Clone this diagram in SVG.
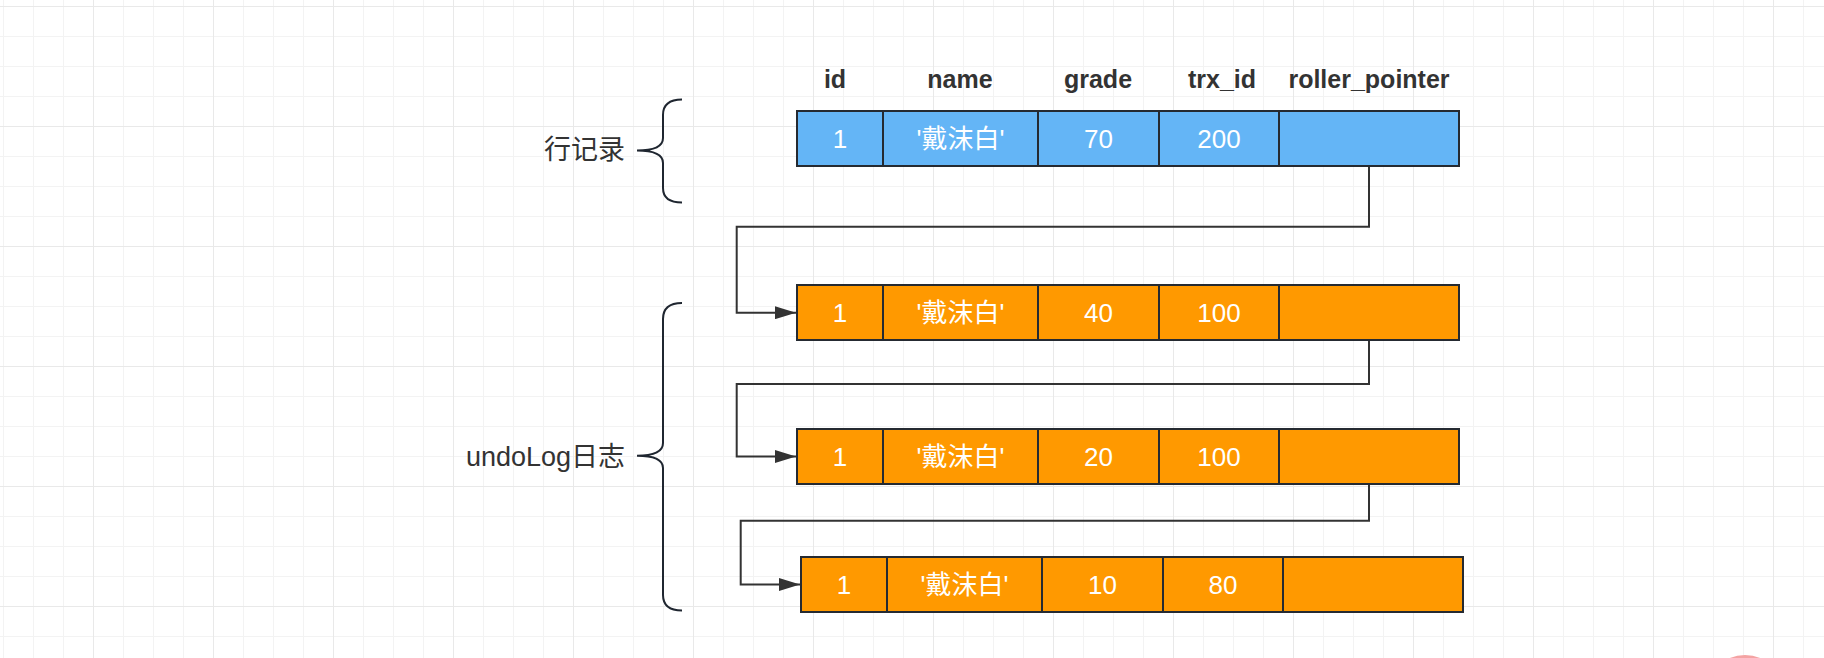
<svg xmlns="http://www.w3.org/2000/svg" width="1824" height="658" viewBox="0 0 1824 658">
<style>
.hdr{font-family:"Liberation Sans","Noto Sans CJK SC",sans-serif;font-size:25px;font-weight:bold;fill:#333333;text-anchor:middle;dominant-baseline:central}
.cell{font-family:"Liberation Sans","Noto Sans CJK SC",sans-serif;font-size:26px;fill:#ffffff;text-anchor:middle;dominant-baseline:central}
.lbl{font-family:"Liberation Sans","Noto Sans CJK SC",sans-serif;font-size:27px;fill:#333333;text-anchor:end;dominant-baseline:central}
.box{stroke:#252a31;stroke-width:2}
.blue{fill:#64b5f6}
.orange{fill:#ff9900}
.div{stroke:#252a31;stroke-width:2}
.conn{fill:none;stroke:#333333;stroke-width:2}
.brace{fill:none;stroke:#1f2630;stroke-width:2}
</style>
<defs>
<pattern id="grid" x="-27" y="6" width="120" height="120" patternUnits="userSpaceOnUse">
<rect x="0" y="0" width="120" height="120" fill="#ffffff"/>
<rect x="30" y="0" width="1" height="120" fill="#f3f3f3"/>
<rect x="60" y="0" width="1" height="120" fill="#f3f3f3"/>
<rect x="90" y="0" width="1" height="120" fill="#f3f3f3"/>
<rect x="0" y="30" width="120" height="1" fill="#f3f3f3"/>
<rect x="0" y="60" width="120" height="1" fill="#f3f3f3"/>
<rect x="0" y="90" width="120" height="1" fill="#f3f3f3"/>
<rect x="0" y="0" width="1" height="120" fill="#e9e9e9"/>
<rect x="0" y="0" width="120" height="1" fill="#e9e9e9"/>
</pattern>
<marker id="arr" viewBox="0 0 21 13" refX="21" refY="6.5" markerWidth="21" markerHeight="13" markerUnits="userSpaceOnUse" orient="auto">
<path d="M0,0 L21,6.5 L0,13 Z" fill="#333333"/>
</marker>
</defs>
<rect x="0" y="0" width="1824" height="658" fill="url(#grid)"/>

<g id="headers">
<text class="hdr" x="835" y="79">id</text>
<text class="hdr" x="960" y="79">name</text>
<text class="hdr" x="1098" y="79">grade</text>
<text class="hdr" x="1222" y="79">trx_id</text>
<text class="hdr" x="1369" y="79">roller_pointer</text>
</g>

<g id="row-record">
<rect class="box blue" x="797" y="111" width="662" height="55"/>
<line class="div" x1="883" y1="111" x2="883" y2="166"/>
<line class="div" x1="1038" y1="111" x2="1038" y2="166"/>
<line class="div" x1="1159" y1="111" x2="1159" y2="166"/>
<line class="div" x1="1279" y1="111" x2="1279" y2="166"/>
<text class="cell" x="840" y="138.5">1</text>
<text class="cell" x="960.5" y="138.5">'戴沫白'</text>
<text class="cell" x="1098.5" y="138.5">70</text>
<text class="cell" x="1219" y="138.5">200</text>
</g>

<g id="row-undo1">
<rect class="box orange" x="797" y="285" width="662" height="55"/>
<line class="div" x1="883" y1="285" x2="883" y2="340"/>
<line class="div" x1="1038" y1="285" x2="1038" y2="340"/>
<line class="div" x1="1159" y1="285" x2="1159" y2="340"/>
<line class="div" x1="1279" y1="285" x2="1279" y2="340"/>
<text class="cell" x="840" y="312.5">1</text>
<text class="cell" x="960.5" y="312.5">'戴沫白'</text>
<text class="cell" x="1098.5" y="312.5">40</text>
<text class="cell" x="1219" y="312.5">100</text>
</g>

<g id="row-undo2">
<rect class="box orange" x="797" y="429" width="662" height="55"/>
<line class="div" x1="883" y1="429" x2="883" y2="484"/>
<line class="div" x1="1038" y1="429" x2="1038" y2="484"/>
<line class="div" x1="1159" y1="429" x2="1159" y2="484"/>
<line class="div" x1="1279" y1="429" x2="1279" y2="484"/>
<text class="cell" x="840" y="456.5">1</text>
<text class="cell" x="960.5" y="456.5">'戴沫白'</text>
<text class="cell" x="1098.5" y="456.5">20</text>
<text class="cell" x="1219" y="456.5">100</text>
</g>

<g id="row-undo3">
<rect class="box orange" x="801" y="557" width="662" height="55"/>
<line class="div" x1="887" y1="557" x2="887" y2="612"/>
<line class="div" x1="1042" y1="557" x2="1042" y2="612"/>
<line class="div" x1="1163" y1="557" x2="1163" y2="612"/>
<line class="div" x1="1283" y1="557" x2="1283" y2="612"/>
<text class="cell" x="844" y="584.5">1</text>
<text class="cell" x="964.5" y="584.5">'戴沫白'</text>
<text class="cell" x="1102.5" y="584.5">10</text>
<text class="cell" x="1223" y="584.5">80</text>
</g>

<g id="connectors">
<path class="conn" d="M1369,167 L1369,226.7 L736.7,226.7 L736.7,312.7 L796,312.7" marker-end="url(#arr)"/>
<path class="conn" d="M1369,341 L1369,384 L736.7,384 L736.7,456.5 L796,456.5" marker-end="url(#arr)"/>
<path class="conn" d="M1369,485 L1369,520.7 L740.7,520.7 L740.7,584.5 L800,584.5" marker-end="url(#arr)"/>
</g>

<g id="brace-record">
<path class="brace" d="M682,99.5 Q663,99.5 663,115 L663,138 Q663,150.5 637,150.5 Q663,150.5 663,163 L663,188 Q663,202.5 682,202.5"/>
<text class="lbl" x="625" y="150">行记录</text>
</g>

<g id="brace-undolog">
<path class="brace" d="M682,303 Q663,303 663,319 L663,443 Q663,455.7 637,455.7 Q663,455.7 663,468 L663,595 Q663,610.5 682,610.5"/>
<text class="lbl" x="625" y="456.5">undoLog日志</text>
</g>

<circle cx="1745" cy="695" r="40" fill="#f4a3a3"/>
</svg>
